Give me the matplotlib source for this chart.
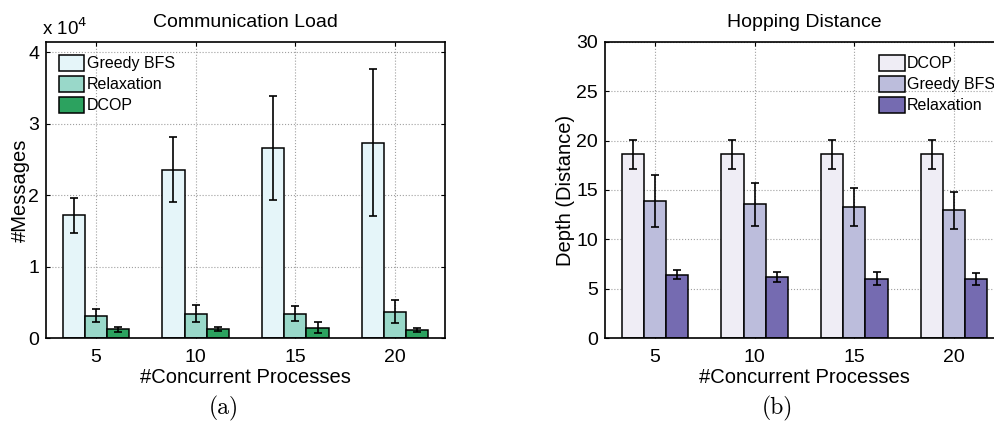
import matplotlib
matplotlib.use("Agg")
import matplotlib.pyplot as plt
import numpy as np
from matplotlib.ticker import FuncFormatter

plt.rcParams['font.family'] = ['Liberation Sans', 'DejaVu Sans']

groups = ["5", "10", "15", "20"]

# Communication load (#messages)
load_series = ["Greedy BFS", "Relaxation", "DCOP"]
load_greedy = [17160, 23540, 26530, 27320]
load_greedy_err = [2450, 4550, 7270, 10260]
load_relax = [3120, 3400, 3400, 3680]
load_relax_err = [930, 1200, 1080, 1600]
load_dcop = [1210, 1210, 1450, 1120]
load_dcop_err = [350, 300, 770, 230]
load_colors = ["#e5f5f9", "#99d8c9", "#2ca25f"]

# Hopping distance
hop_series = ["DCOP", "Greedy BFS", "Relaxation"]
hop_dcop = [18.6, 18.6, 18.6, 18.6]
hop_dcop_err = [1.5, 1.5, 1.5, 1.5]
hop_greedy = [13.85, 13.55, 13.27, 12.94]
hop_greedy_err = [2.65, 2.2, 1.95, 1.85]
hop_relax = [6.43, 6.2, 5.99, 5.96]
hop_relax_err = [0.5, 0.48, 0.65, 0.6]
hop_colors = ["#efedf5", "#bcbddc", "#756bb1"]

W, H = 995, 423
fig = plt.figure(figsize=(W / 100, H / 100), dpi=100)

ax1 = fig.add_axes([46 / W, (H - 338) / H, 399 / W, 296 / H])
ax2 = fig.add_axes([605 / W, (H - 338) / H, 399 / W, 296 / H])

x = np.arange(1, len(groups) + 1)
bw = 0.222
offsets = [-bw, 0, bw]


def draw(ax, vals, errs, names, colors):
    for i, (v, e, n, c) in enumerate(zip(vals, errs, names, colors)):
        ax.bar(x + offsets[i], v, bw, color=c, edgecolor="black", linewidth=1.1,
               label=n, zorder=2)
        ax.errorbar(x + offsets[i], v, yerr=e, fmt="none", ecolor="black",
                    elinewidth=1.2, capsize=3, capthick=1.2, zorder=3)
    ax.set_xlim(0.5, 4.5)
    ax.set_xticks(x)
    ax.set_xticklabels(groups)
    ax.grid(True, linestyle=":", color="#a0a0a0", linewidth=0.8, zorder=0)
    ax.set_axisbelow(True)
    ax.tick_params(direction="in", length=3, top=True, right=True,
                   labelsize=14, width=0.8, pad=5)
    ax.tick_params(axis="x", pad=8)
    for s in ax.spines.values():
        s.set_linewidth(1.2)
    ax.set_xlabel("#Concurrent Processes", fontsize=14.5, labelpad=1)


draw(ax1, [load_greedy, load_relax, load_dcop],
     [load_greedy_err, load_relax_err, load_dcop_err], load_series, load_colors)
ax1.set_ylim(0, 41400)
ax1.set_yticks([0, 10000, 20000, 30000, 40000])
ax1.yaxis.set_major_formatter(FuncFormatter(lambda v, p: f"{v / 1e4:g}"))
ax1.set_ylabel("#Messages", fontsize=14.5, labelpad=-1)
ax1.set_title("Communication Load", fontsize=14, pad=11)
ax1.text(-0.01, 1.01, r"x 10$^{4}$", transform=ax1.transAxes, fontsize=13.5,
         ha="left", va="bottom")
ax1.legend(loc="upper left", bbox_to_anchor=(0.0, 1.0), frameon=False,
           fontsize=11.5, handlelength=1.6, handleheight=1.15, handletextpad=0.15,
           labelspacing=0.3, borderaxespad=0.4)

draw(ax2, [hop_dcop, hop_greedy, hop_relax],
     [hop_dcop_err, hop_greedy_err, hop_relax_err], hop_series, hop_colors)
ax2.set_ylim(0, 30)
ax2.set_yticks([0, 5, 10, 15, 20, 25, 30])
ax2.set_ylabel("Depth (Distance)", fontsize=14.5, labelpad=1)
ax2.set_title("Hopping Distance", fontsize=14, pad=11)
ax2.legend(loc="upper left", bbox_to_anchor=(0.655, 1.0), frameon=False,
           fontsize=11.5, handlelength=1.6, handleheight=1.15, handletextpad=0.15,
           labelspacing=0.3, borderaxespad=0.4)

fig.text(224 / W, (H - 408) / H, "(a)", family="cmr10", fontsize=17,
         ha="center", va="center")
fig.text(777 / W, (H - 408) / H, "(b)", family="cmr10", fontsize=17,
         ha="center", va="center")

fig.savefig("out.png", dpi=100)
